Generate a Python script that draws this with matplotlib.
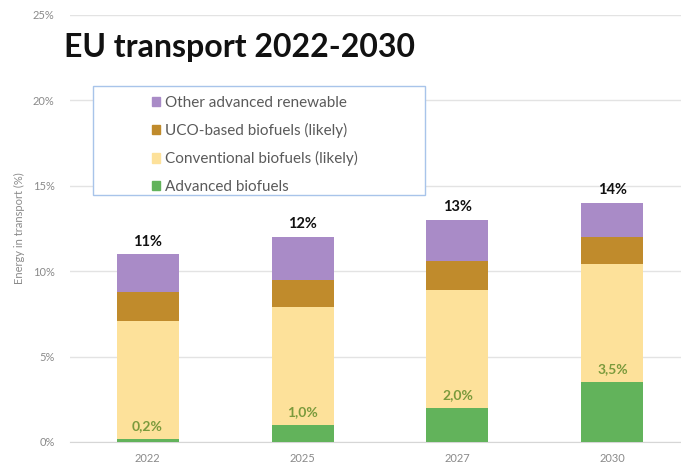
import numpy as np
import matplotlib.pyplot as plt
from matplotlib.patches import Patch, Rectangle

plt.rcParams['font.family'] = ['Lato', 'DejaVu Sans']

# Share of energy in EU transport, in %
years = ['2022', '2025', '2027', '2030']
advanced = [0.2, 1.0, 2.0, 3.5]
conventional = [6.9, 6.9, 6.9, 6.9]
uco = [1.7, 1.6, 1.7, 1.6]
other = [2.2, 2.5, 2.4, 2.0]
totals = [11, 12, 13, 14]
advanced_labels = ['0,2%', '1,0%', '2,0%', '3,5%']

c_green = '#62b35b'
c_conv = '#fde19a'
c_uco = '#c08b2c'
c_other = '#a98bc7'

W, H = 681, 466
fig = plt.figure(figsize=(W / 100, H / 100), dpi=100)
ax = fig.add_axes([70 / W, 24 / H, 620 / W, 427 / H])

x = np.arange(len(years))
w = 0.4
b1 = np.array(advanced)
b2 = b1 + np.array(conventional)
b3 = b2 + np.array(uco)
ax.bar(x, advanced, w, color=c_green, zorder=3)
ax.bar(x, conventional, w, bottom=b1, color=c_conv, zorder=3)
ax.bar(x, uco, w, bottom=b2, color=c_uco, zorder=3)
ax.bar(x, other, w, bottom=b3, color=c_other, zorder=3)

# totals above the bars
for xi, t in zip(x, totals):
    ax.annotate(f'{t}%', (xi, t), xytext=(0, 4), textcoords='offset points',
                ha='center', va='bottom', fontsize=10.5, fontweight='bold', color='#111111')

# advanced biofuel share just above the green segment
for xi, v, lab in zip(x, advanced, advanced_labels):
    ax.annotate(lab, (xi, v), xytext=(0, 5), textcoords='offset points',
                ha='center', va='bottom', fontsize=10, fontweight='bold', color='#7a9a3c')

ax.set_xlim(-0.5, 3.5)
ax.set_ylim(0, 25)
ax.set_yticks([0, 5, 10, 15, 20, 25])
ax.set_yticklabels(['0%', '5%', '10%', '15%', '20%', '25%'])
ax.set_xticks(x)
ax.set_xticklabels(years)
ax.tick_params(axis='both', length=0, labelsize=8, labelcolor='#8a8a8a')
ax.tick_params(axis='y', pad=11)
ax.tick_params(axis='x', pad=8)
ax.grid(axis='y', color='#e3e3e3', linewidth=1, zorder=0)
for s in ['top', 'right', 'left']:
    ax.spines[s].set_visible(False)
ax.spines['bottom'].set_color('#d6d6d6')
ax.set_ylabel('Energy in transport (%)', fontsize=8, color='#8a8a8a', labelpad=6)

fig.text(64 / W, 1 - 47 / H, 'EU transport 2022-2030', fontsize=23, fontweight='bold',
         color='#111111', va='center', ha='left')

# legend frame (white box over the grid)
frame = Rectangle((93 / W, 1 - 195 / H), (425 - 93) / W, (195 - 86) / H,
                  transform=fig.transFigure, facecolor='white', edgecolor='#a8c4ea',
                  linewidth=1, zorder=4)
ax.add_artist(frame)

handles = [Patch(color=c_other), Patch(color=c_uco), Patch(color=c_conv), Patch(color=c_green)]
labels = ['Other advanced renewable', 'UCO-based biofuels (likely)',
          'Conventional biofuels (likely)', 'Advanced biofuels']
leg = ax.legend(handles, labels, loc='upper left', bbox_to_anchor=(152 / W, 1 - 96 / H),
                bbox_transform=fig.transFigure, frameon=False, fontsize=11,
                labelcolor='#5a5a5a', handlelength=0.55, handleheight=0.55,
                handletextpad=0.3, labelspacing=0.86, borderpad=0, borderaxespad=0)
leg.set_zorder(5)

fig.savefig('out.png', dpi=100)
